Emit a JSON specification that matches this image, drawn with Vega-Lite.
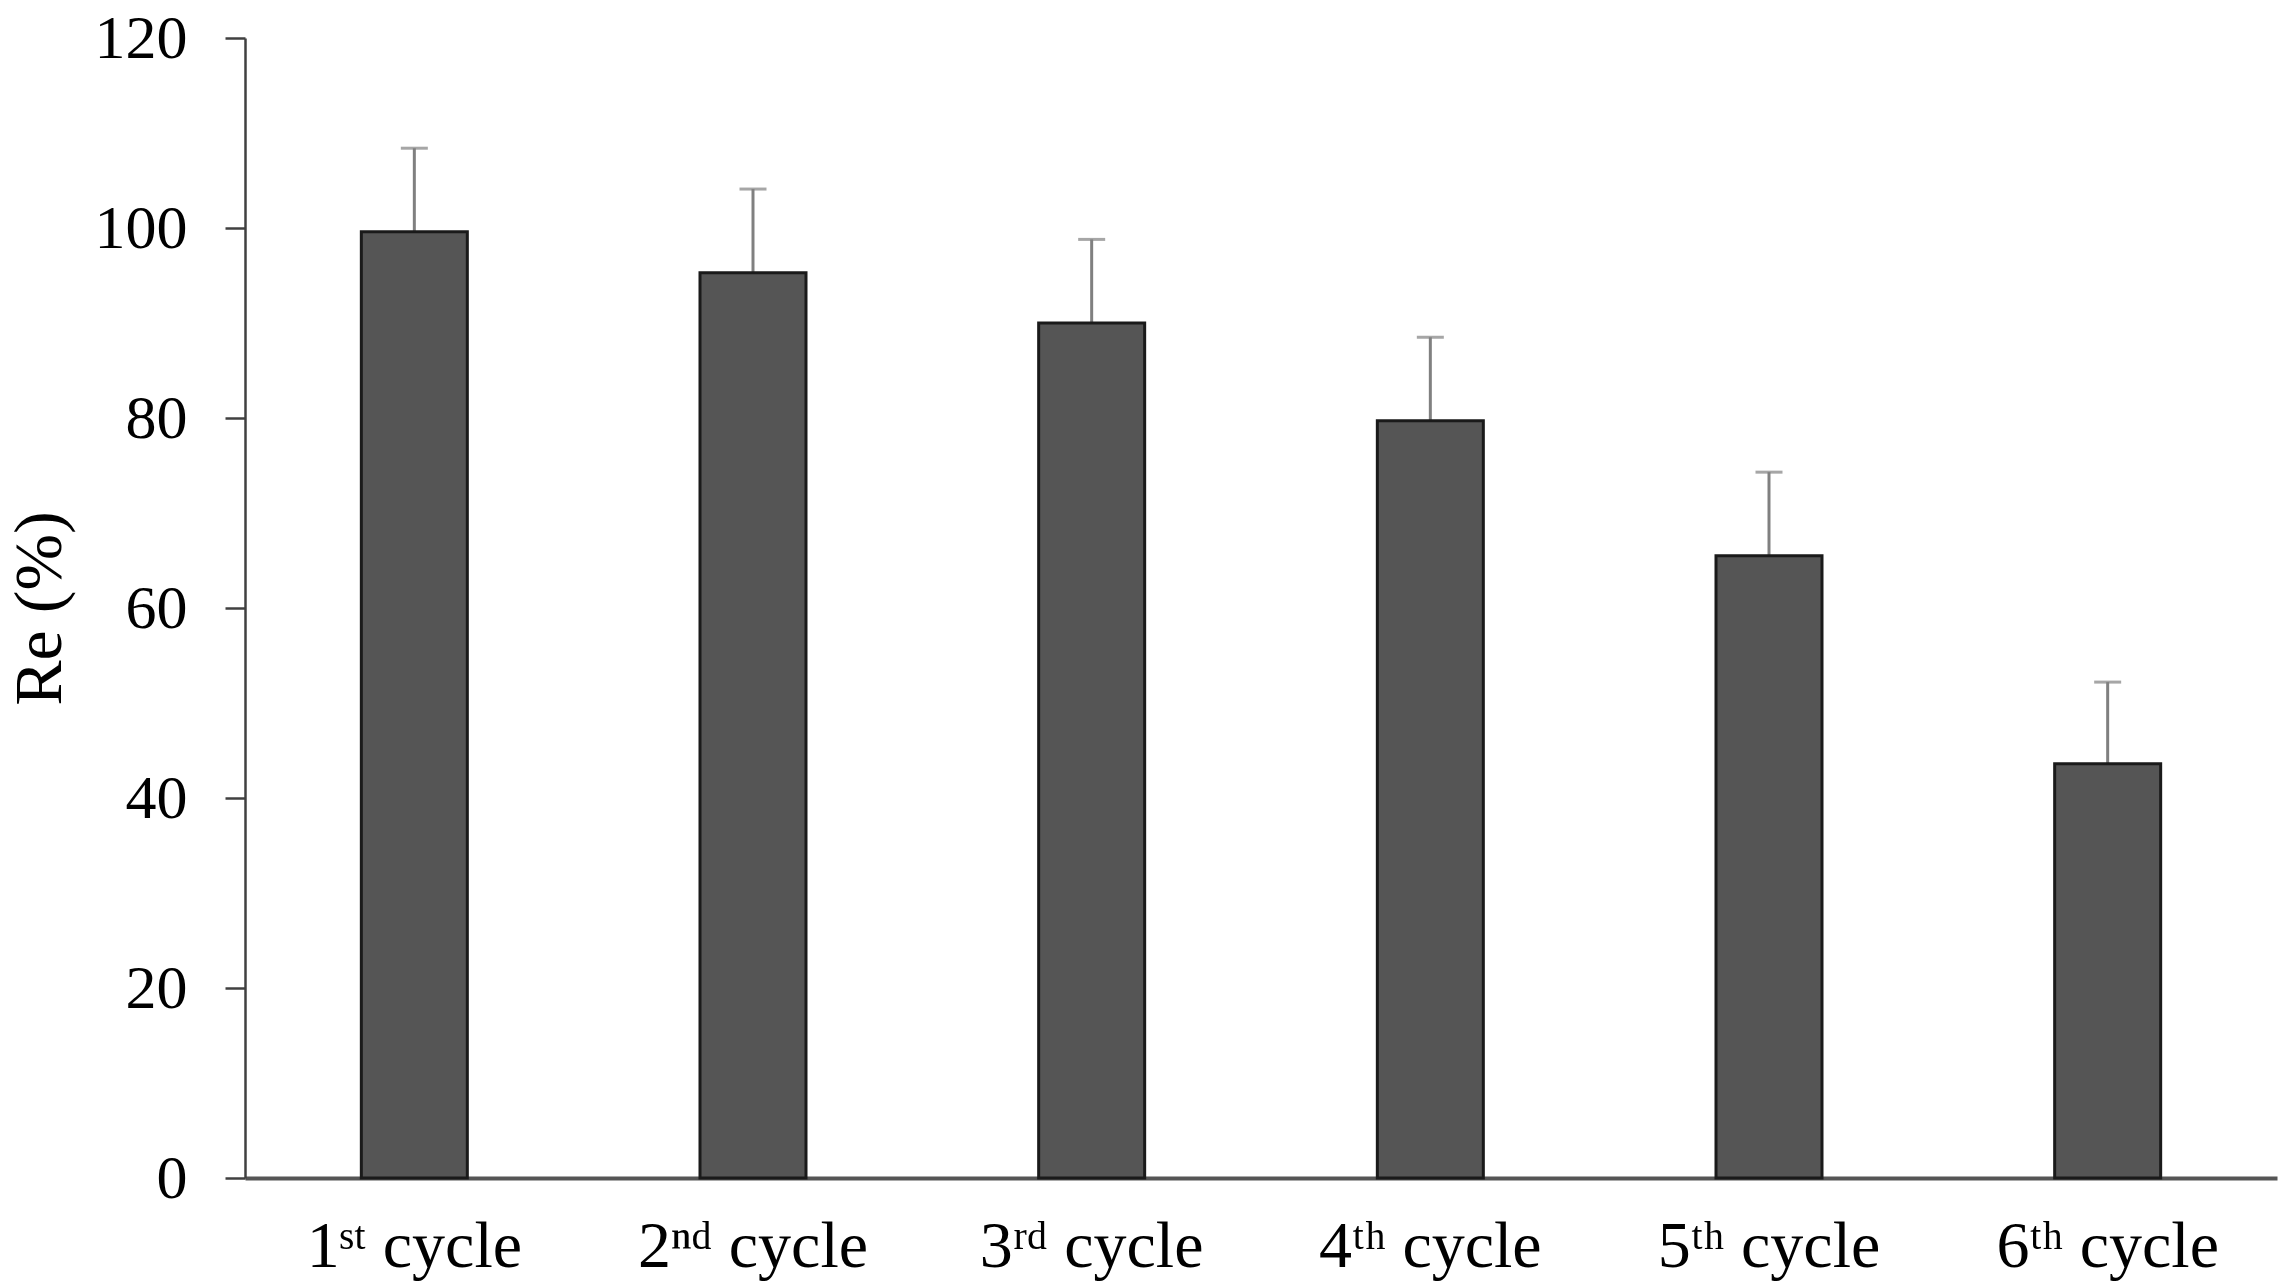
{
  "$schema": "https://vega.github.io/schema/vega-lite/v6.json",
  "width": 2032,
  "height": 1140,
  "autosize": {"type": "none"},
  "padding": {"left": 245, "top": 38, "right": 8, "bottom": 108},
  "background": "white",
  "config": {
    "view": {"stroke": null},
    "font": "Liberation Serif"
  },
  "data": {
    "values": [
      {"cycle": "1ˢᵗ cycle", "re": 99.6, "upper": 108.4},
      {"cycle": "2ⁿᵈ cycle", "re": 95.3, "upper": 104.1},
      {"cycle": "3ʳᵈ cycle", "re": 90.0, "upper": 98.8},
      {"cycle": "4ᵗʰ cycle", "re": 79.7, "upper": 88.5},
      {"cycle": "5ᵗʰ cycle", "re": 65.5, "upper": 74.3},
      {"cycle": "6ᵗʰ cycle", "re": 43.6, "upper": 52.2}
    ]
  },
  "encoding": {
    "x": {
      "field": "cycle",
      "type": "nominal",
      "sort": null,
      "scale": {"paddingInner": 0.687, "paddingOuter": 0.3435},
      "axis": {
        "title": null,
        "labelAngle": 0,
        "labelLimit": 0,
        "ticks": false,
        "domainColor": "#555555",
        "domainWidth": 4,
        "labelFont": "Liberation Serif",
        "labelFontSize": 66,
        "labelColor": "#000000",
        "labelBaseline": "alphabetic",
        "labelPadding": 88
      }
    }
  },
  "layer": [
    {
      "mark": {"type": "rule", "color": "#808080", "strokeWidth": 3},
      "encoding": {
        "y": {"field": "re", "type": "quantitative"},
        "y2": {"field": "upper"}
      }
    },
    {
      "mark": {"type": "tick", "color": "#808080", "thickness": 3, "size": 27, "orient": "horizontal"},
      "encoding": {
        "y": {"field": "upper", "type": "quantitative"}
      }
    },
    {
      "mark": {"type": "bar", "fill": "#555555", "stroke": "#1a1a1a", "strokeWidth": 3},
      "encoding": {
        "y": {
          "field": "re",
          "type": "quantitative",
          "scale": {"domain": [0, 120], "nice": false},
          "axis": {
            "title": "Re (%)",
            "titleFont": "Liberation Serif",
            "titleFontSize": 68,
            "titleFontWeight": "normal",
            "titleColor": "#000000",
            "titlePadding": 20,
            "values": [0, 20, 40, 60, 80, 100, 120],
            "grid": false,
            "domainColor": "#404040",
            "domainWidth": 2.5,
            "tickColor": "#404040",
            "tickWidth": 2.5,
            "tickSize": 20,
            "labelFont": "Liberation Serif",
            "labelFontSize": 62,
            "labelColor": "#000000",
            "labelPadding": 38
          }
        }
      }
    }
  ]
}
